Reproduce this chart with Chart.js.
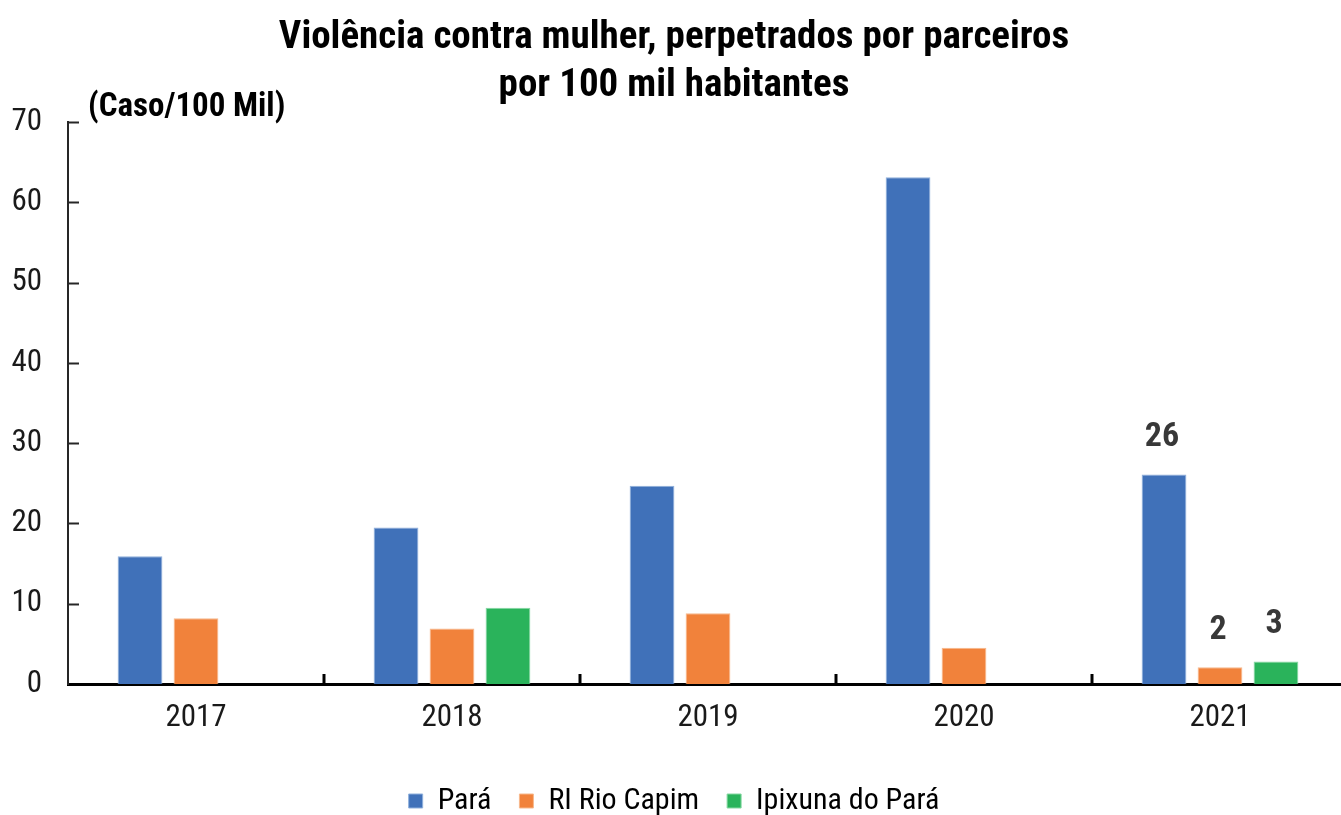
<!DOCTYPE html>
<html lang="pt">
<head>
<meta charset="utf-8">
<title>Violência contra mulher</title>
<script src="https://cdn.jsdelivr.net/npm/chart.js@4.4.1/dist/chart.umd.min.js"></script>
<style>
  html, body { margin: 0; padding: 0; background: #fff; overflow: hidden; }
  #wrap { width: 1348px; height: 826px; }
</style>
</head>
<body>
<div id="wrap"><canvas id="grafico"></canvas></div>
<script>
// ─── DADOS ────────────────────────────────────────────────────────────────
const anos = ['2017', '2018', '2019', '2020', '2021'];
const para = [15.9, 19.5, 24.7, 63.1, 26.1];
const rioCapim = [8.2, 6.9, 8.8, 4.5, 2.1];
const ipixuna = [null, 9.5, null, null, 2.8];
// rótulos só aparecem em 2021
const rotulosPara = [null, null, null, null, '26'];
const rotulosCapim = [null, null, null, null, '2'];
const rotulosIpixuna = [null, null, null, null, '3'];
const yTicks = [0, 10, 20, 30, 40, 50, 60, 70];

const FONTE = "'Roboto Condensed', 'Liberation Sans', sans-serif";

// ─── PLUGINS ──────────────────────────────────────────────────────────────

// marcas internas nos eixos + título do eixo y
const eixosPlugin = {
  id: 'eixos',
  afterDraw(chart) {
    const { ctx, chartArea, scales } = chart;
    const y = scales.y, x = scales.x;
    ctx.save();
    ctx.strokeStyle = '#262626';
    ctx.lineWidth = 2;
    yTicks.forEach(v => {
      if (v === 0) return;
      const py = Math.round(y.getPixelForValue(v)) + 0.5;
      ctx.beginPath();
      ctx.moveTo(chartArea.left, py);
      ctx.lineTo(chartArea.left + 11, py);
      ctx.stroke();
    });
    // divisões entre categorias no eixo x
    ctx.strokeStyle = '#000';
    ctx.lineWidth = 3;
    for (let i = 1; i < anos.length; i++) {
      const px = (x.getPixelForValue(i - 1) + x.getPixelForValue(i)) / 2;
      ctx.beginPath();
      ctx.moveTo(px, chartArea.bottom);
      ctx.lineTo(px, chartArea.bottom - 10);
      ctx.stroke();
    }
    ctx.fillStyle = '#000';
    ctx.font = "bold 33px " + FONTE;
    ctx.textAlign = 'left';
    ctx.textBaseline = 'middle';
    ctx.fillText('(Caso/100 Mil)', chartArea.left + 20, 108);
    ctx.restore();
  }
};

// valores acima das barras
const rotulosPlugin = {
  id: 'rotulos',
  afterDatasetsDraw(chart) {
    const { ctx } = chart;
    const listas = [rotulosPara, rotulosCapim, rotulosIpixuna];
    ctx.save();
    ctx.fillStyle = '#383838';
    ctx.font = "bold 34px " + FONTE;
    ctx.textAlign = 'center';
    ctx.textBaseline = 'middle';
    listas.forEach((lista, d) => {
      const meta = chart.getDatasetMeta(d);
      lista.forEach((txt, i) => {
        if (!txt) return;
        const bar = meta.data[i];
        ctx.fillText(txt, bar.x - 2, bar.y - 37);
      });
    });
    ctx.restore();
  }
};

// ─── GRÁFICO ──────────────────────────────────────────────────────────────

const serie = (label, data, cor, borda) => ({
  label,
  data,
  backgroundColor: cor,
  borderColor: borda,
  borderWidth: 1,
  barPercentage: 0.8,
  categoryPercentage: 0.656
});

new Chart(document.getElementById('grafico'), {
  type: 'bar',
  data: {
    labels: anos,
    datasets: [
      serie('Pará', para, '#4071B9', '#8fb0dc'),
      serie('RI Rio Capim', rioCapim, '#F1823B', '#f7b88c'),
      serie('Ipixuna do Pará', ipixuna, '#2AB35B', '#86d8a2')
    ]
  },
  options: {
    responsive: true,
    maintainAspectRatio: false,
    animation: false,
    layout: { padding: 0 },
    plugins: {
      title: {
        display: true,
        text: ['Violência contra mulher, perpetrados por parceiros', 'por 100 mil habitantes'],
        color: '#000',
        font: { family: FONTE, size: 39, weight: 'bold', lineHeight: 1.23 },
        padding: { top: 14, bottom: 12 }
      },
      legend: {
        position: 'bottom',
        labels: {
          color: '#000',
          font: { family: FONTE, size: 30 },
          boxWidth: 14,
          boxHeight: 14,
          padding: 28
        }
      },
      tooltip: { enabled: false }
    },
    scales: {
      x: {
        grid: { display: false, drawTicks: false },
        border: { display: true, color: '#000', width: 3 },
        ticks: { color: '#1a1a1a', font: { family: FONTE, size: 31 }, padding: 16 },
        afterFit: s => { s.height = 74; }
      },
      y: {
        min: 0,
        max: 70,
        grid: { display: false, drawTicks: false },
        border: { display: true, color: '#262626', width: 2 },
        ticks: {
          stepSize: 10,
          color: '#1a1a1a',
          font: { family: FONTE, size: 31 },
          padding: 26
        },
        afterFit: s => { s.width = 68; }
      }
    }
  },
  plugins: [eixosPlugin, rotulosPlugin]
});
</script>
</body>
</html>
